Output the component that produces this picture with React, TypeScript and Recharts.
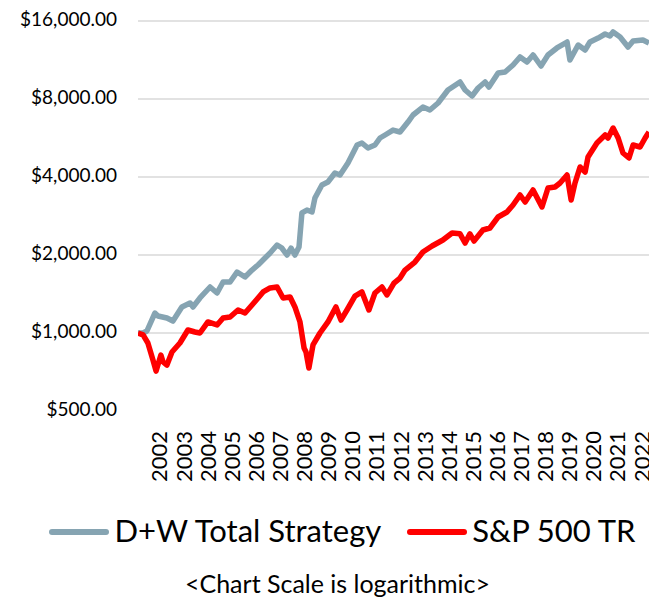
import { LineChart, Line, XAxis, YAxis, CartesianGrid, Legend } from 'recharts'

// x position in years (as labelled on the axis), y value in dollars
const dwYears = [
  2001.13, 2001.34, 2001.5, 2001.83, 2001.96, 2002.33, 2002.58, 2002.95, 2003.29, 2003.41,
  2003.7, 2004.12, 2004.41, 2004.66, 2004.95, 2005.24, 2005.57, 2005.86, 2006.11, 2006.4,
  2006.61, 2006.9, 2007.1, 2007.31, 2007.48, 2007.64, 2007.81, 2007.93, 2008.14, 2008.35,
  2008.47, 2008.76, 2009.01, 2009.3, 2009.51, 2009.84, 2010.22, 2010.42, 2010.67, 2010.96,
  2011.17, 2011.38, 2011.71, 2012.0, 2012.33, 2012.54, 2012.95, 2013.24, 2013.58, 2013.99,
  2014.49, 2014.7, 2014.99, 2015.24, 2015.53, 2015.69, 2016.07, 2016.36, 2016.69, 2016.98,
  2017.27, 2017.52, 2017.85, 2018.14, 2018.51, 2018.93, 2019.05, 2019.39, 2019.68, 2019.88,
  2020.22, 2020.51, 2020.71, 2020.84, 2021.13, 2021.46, 2021.67, 2022.08, 2022.33,
]
const dwValues = [
  1000, 1000, 1018, 1194, 1163, 1143, 1112, 1260, 1306, 1260,
  1365, 1505, 1427, 1573, 1573, 1719, 1645, 1750, 1830, 1948,
  2036, 2186, 2128, 2000, 2128, 2000, 2147, 2905, 2983, 2931,
  3319, 3725, 3826, 4145, 4072, 4530, 5315, 5411, 5176, 5315,
  5657, 5810, 6070, 5967, 6520, 6940, 7450, 7255, 7720, 8665,
  9305, 8665, 8215, 8820, 9305, 8900, 10080, 10170, 10820, 11620,
  11110, 11830, 10725, 11830, 12590, 13275, 11315, 12925, 12365, 13275,
  13755, 14255, 14005, 14510, 13880, 12700, 13400, 13520, 13160,
]

const spYears = [
  2001.13, 2001.34, 2001.54, 2001.75, 2001.88, 2002.08, 2002.17, 2002.33, 2002.54, 2002.87,
  2003.2, 2003.49, 2003.7, 2004.03, 2004.41, 2004.66, 2004.95, 2005.28, 2005.57, 2005.86,
  2006.11, 2006.32, 2006.61, 2006.9, 2007.15, 2007.44, 2007.64, 2007.85, 2008.02, 2008.1,
  2008.22, 2008.39, 2008.68, 2009.01, 2009.34, 2009.55, 2009.8, 2010.13, 2010.42, 2010.71,
  2010.96, 2011.25, 2011.46, 2011.75, 2012.0, 2012.21, 2012.62, 2012.95, 2013.33, 2013.78,
  2014.16, 2014.49, 2014.7, 2014.9, 2015.07, 2015.44, 2015.73, 2016.07, 2016.44, 2016.69,
  2016.98, 2017.19, 2017.52, 2017.89, 2018.14, 2018.43, 2018.64, 2018.93, 2019.1, 2019.26,
  2019.47, 2019.68, 2019.8, 2020.17, 2020.51, 2020.63, 2020.84, 2021.05, 2021.25, 2021.5,
  2021.67, 2021.96, 2022.17, 2022.33,
]
const spValues = [
  1000, 983, 915, 787, 713, 822, 773, 752, 845, 915,
  1027, 1009, 1000, 1103, 1074, 1143, 1153, 1227, 1194, 1282,
  1365, 1440, 1492, 1505, 1365, 1377, 1260, 1103, 875, 845,
  733, 899, 1000, 1103, 1260, 1122, 1227, 1389, 1440, 1227,
  1427, 1505, 1402, 1559, 1630, 1750, 1879, 2054, 2166, 2285,
  2432, 2414, 2225, 2414, 2265, 2498, 2542, 2803, 2931, 3119,
  3409, 3203, 3564, 3064, 3627, 3660, 3792, 4072, 3261, 3792,
  4372, 4182, 4778, 5411, 5810, 5657, 6182, 5657, 4951, 4736,
  5315, 5222, 5657, 5967,
]

const yearTicks = [
  2002, 2003, 2004, 2005, 2006, 2007, 2008, 2009, 2010, 2011, 2012,
  2013, 2014, 2015, 2016, 2017, 2018, 2019, 2020, 2021, 2022,
]
const valueTicks = [500, 1000, 2000, 4000, 8000, 16000]

const seriesNames = ['D+W Total Strategy', 'S&P 500 TR']
const colors = ['#86A4B2', '#FF0000']

const dwData = dwYears.map((t, i) => ({ t, v: dwValues[i] }))
const spData = spYears.map((t, i) => ({ t, v: spValues[i] }))

const font = 'Lato, "Open Sans", sans-serif'

const fmtMoney = (v: number) =>
  '$' + v.toLocaleString('en-US', { minimumFractionDigits: 2, maximumFractionDigits: 2 })

const YearTick = ({ x, y, payload }: any) => (
  <g transform={`translate(${x},${y + 12})`}>
    <text
      transform="rotate(-90)"
      textAnchor="end"
      dominantBaseline="central"
      fontSize={22}
      fontFamily={font}
      fill="#000"
    >
      {payload.value}
    </text>
  </g>
)

const LegendBox = () => (
  <div style={{ height: 120, fontFamily: font, color: '#000', position: 'relative' }}>
    <div
      style={{
        position: 'absolute',
        top: 34,
        left: 0,
        width: '100%',
        display: 'flex',
        justifyContent: 'center',
        alignItems: 'center',
        gap: 26,
        paddingLeft: 28,
        boxSizing: 'border-box',
        fontSize: 31,
        lineHeight: '36px',
      }}
    >
      {seriesNames.map((name, i) => (
        <div key={name} style={{ display: 'flex', alignItems: 'center' }}>
          <span
            style={{
              display: 'inline-block',
              width: 60,
              height: 6,
              borderRadius: 3,
              background: colors[i],
              marginRight: 5,
              marginTop: 4,
            }}
          />
          <span>{name}</span>
        </div>
      ))}
    </div>
    <div
      style={{
        position: 'absolute',
        top: 91,
        left: 0,
        width: '100%',
        textAlign: 'center',
        fontSize: 25,
        lineHeight: '28px',
        paddingLeft: 18,
        boxSizing: 'border-box',
      }}
    >
      {'<Chart Scale is logarithmic>'}
    </div>
  </div>
)

export default function App() {
  return (
    <LineChart width={649} height={590} margin={{ top: 13, right: 8, bottom: 0, left: 0 }}>
      <CartesianGrid
        vertical={false}
        stroke="#D9D9D9"
        strokeWidth={1.5}
        horizontalValues={[1000, 2000, 4000, 8000, 16000]}
      />
      <XAxis
        type="number"
        dataKey="t"
        domain={[2001.13, 2022.33]}
        ticks={yearTicks}
        interval={0}
        axisLine={false}
        tickLine={false}
        height={67}
        tick={<YearTick />}
        allowDataOverflow
      />
      <YAxis
        type="number"
        dataKey="v"
        scale="log"
        domain={[500, 16000]}
        ticks={valueTicks}
        interval={0}
        allowDataOverflow
        axisLine={false}
        tickLine={false}
        width={130}
        tickMargin={15}
        tickFormatter={fmtMoney}
        tick={{ fontSize: 19, fontFamily: font, fill: '#000', dy: -2 }}
      />
      <Line
        data={dwData}
        dataKey="v"
        name={seriesNames[0]}
        type="linear"
        stroke={colors[0]}
        strokeWidth={5.5}
        strokeLinejoin="round"
        dot={false}
        isAnimationActive={false}
      />
      <Line
        data={spData}
        dataKey="v"
        name={seriesNames[1]}
        type="linear"
        stroke={colors[1]}
        strokeWidth={5.5}
        strokeLinejoin="round"
        dot={false}
        isAnimationActive={false}
      />
      <Legend verticalAlign="bottom" height={120} content={<LegendBox />} />
    </LineChart>
  )
}
